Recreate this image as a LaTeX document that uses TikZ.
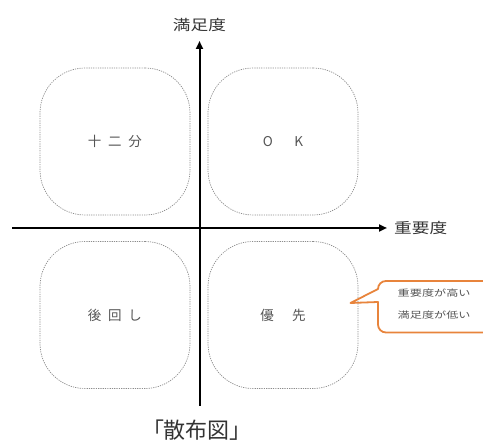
\documentclass[tikz,border=0pt]{standalone}
\usepackage{fontspec}
\usepackage{graphicx}
\newfontfamily\cjk{Noto Sans CJK JP}
\usetikzlibrary{arrows.meta}
\definecolor{boxgray}{HTML}{8C8C8C}
\definecolor{txtgray}{HTML}{555555}
\definecolor{axtxt}{HTML}{333333}
\definecolor{callorange}{HTML}{E8843C}
\tikzset{
  quad/.style={draw=boxgray, line width=0.7pt, dash pattern=on 1.2pt off 1.1pt,
    rounded corners=45pt, minimum width=150pt, minimum height=147pt,
    font=\cjk\fontsize{13.5}{15}\selectfont, text=txtgray, inner sep=0pt},
  axis/.style={line width=2pt, black},
  axlabel/.style={font=\cjk\fontsize{14.5}{18}\selectfont, text=axtxt, inner sep=0pt},
  calltext/.style={font=\cjk\fontsize{9}{10}\selectfont, text=txtgray, inner sep=0pt, anchor=west},
}
\begin{document}
\begin{tikzpicture}[x=1pt,y=-1pt]
\useasboundingbox (0,0) rectangle (483,443);
% quadrant boxes
\node[quad] (tl) at (115,141.5) {十\hspace{0.5em}二\hspace{0.5em}分};
\node[quad] (tr) at (283,141.5) {O\hspace{1.6em}K};
\node[quad] (bl) at (115,315) {後\hspace{0.5em}回\hspace{0.5em}し};
\node[quad] (br) at (283,315) {優\hspace{1.35em}先};
% axes
\coordinate (xl) at (12,228);
\coordinate (xr) at (387,228);
\coordinate (yb) at (199.5,406);
\coordinate (yt) at (199.5,41);
\draw[axis, -{Triangle[length=8pt,width=7pt]}] (xl) -- (xr);
\draw[axis, -{Triangle[length=8pt,width=7pt]}] (yb) -- (yt);
\node[axlabel] (ylab) at (199.5,25) {\scalebox{1.22}[1]{満足度}};
\node[axlabel, anchor=west] (xlab) at (394,228.5) {\scalebox{1.22}[1]{重要度}};
% callout
\coordinate (tip) at (350.5,303);
\draw[callorange, line width=1.8pt, line join=round]
  (tip) -- (378,302) {[rounded corners=8pt] -- (378,332.5) -- (500,332.5) -- (500,281) -- (378,281)} -- (378,289) -- cycle;
\node[calltext] (c1) at (397.5,293) {\scalebox{1.35}[1]{重要度が高い}};
\node[calltext] (c2) at (397.5,315.5) {\scalebox{1.35}[1]{満足度が低い}};
% title
\node[font=\cjk\fontsize{22}{26}\selectfont, text=axtxt, inner sep=0pt] (title) at (197,430) {「散布図」};
\end{tikzpicture}
\end{document}
